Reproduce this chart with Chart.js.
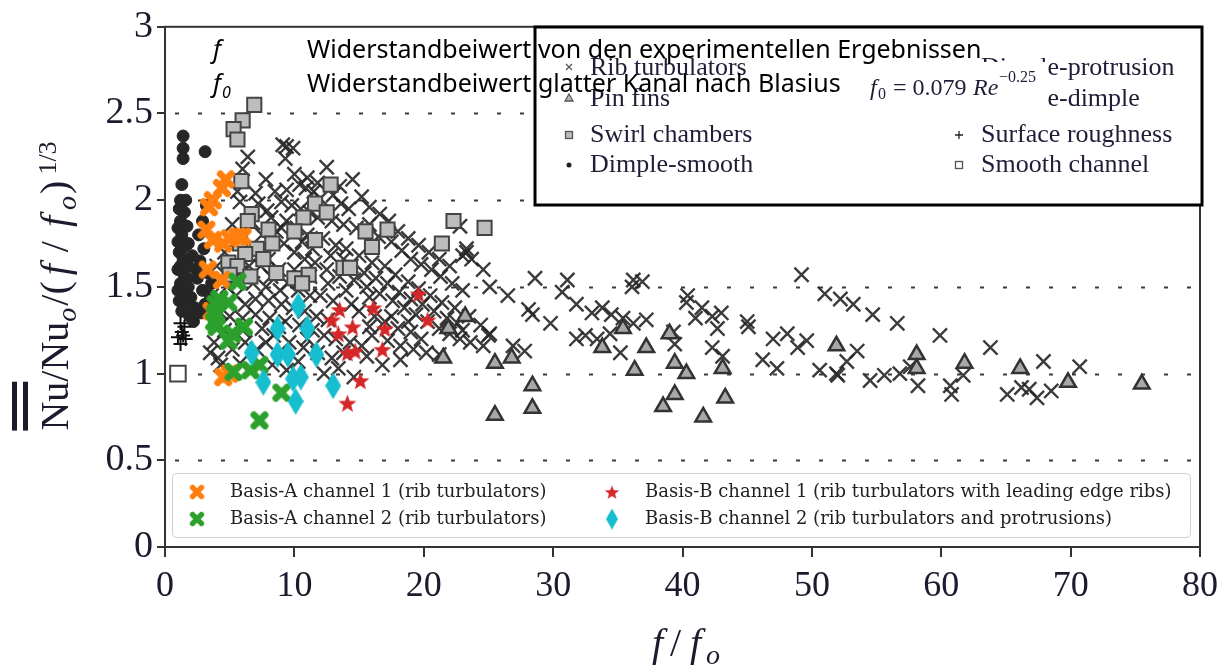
<!DOCTYPE html>
<html>
<head>
<meta charset="utf-8">
<script src="https://cdn.jsdelivr.net/npm/chart.js@4/dist/chart.umd.min.js"></script>
<style>
body { margin: 0; background: #fff; }
#wrap { width: 1228px; height: 671px; }
</style>
</head>
<body>
<div id="wrap"><canvas id="thermChart"></canvas></div>
<script>
// tick labels
const xTickLabels = ['0','10','20','30','40','50','60','70','80'];
const yTickLabels = ['0','0.5','1','1.5','2','2.5','3'];

// Basis-A / Basis-B measurements [f/f0, Nu/Nu0/(f/f0)^1/3]
const basisA1 = [[4.7,2.12],[4.4,2.07],[3.7,2.0],[3.4,1.96],[3.2,1.83],[3.7,1.77],[4.5,1.75],[5.0,1.78],[5.6,1.79],[6.0,1.79],[3.3,1.60],[4.4,1.54],[3.6,1.36],[4.5,0.98],[5.0,1.0]];
const basisA2 = [[5.6,1.53],[4.2,1.43],[3.9,1.40],[4.9,1.41],[3.8,1.30],[4.0,1.27],[5.2,1.23],[6.1,1.27],[4.9,1.19],[5.3,1.01],[6.6,1.02],[7.3,1.05],[9.0,0.89],[7.3,0.73],[3.9,1.35]];
const basisB1 = [[13.5,1.37],[12.9,1.31],[13.4,1.23],[14.5,1.27],[16.1,1.38],[17.0,1.26],[16.8,1.14],[14.1,1.12],[14.7,1.13],[15.1,0.96],[14.1,0.83],[19.6,1.46],[20.3,1.31]];
const basisB2 = [[6.7,1.12],[7.6,0.95],[8.7,1.26],[8.7,1.11],[9.5,1.11],[10.3,1.39],[11.0,1.26],[11.7,1.11],[9.9,0.97],[10.5,0.98],[10.1,0.84],[13.0,0.93]];

// literature data
const ribTurb = [[9.4,2.31],[9.9,2.30],[9.3,2.24],[9.1,2.32],[6.4,2.25],[12.5,2.19],[14.5,2.12],[7.0,2.04],[5.6,2.05],[5.8,1.99],[9.4,2.06],[10.4,2.09],[10.9,2.07],[11.5,2.05],[12.0,2.01],[13.0,2.03],[13.6,1.98],[14.2,1.95],[9.0,1.99],[9.8,1.97],[10.5,1.95],[11.2,1.93],[11.8,1.90],[12.9,1.88],[13.8,1.86],[14.8,1.84],[15.8,1.86],[16.5,1.79],[17.5,1.76],[18.3,1.71],[19.0,1.66],[19.8,1.63],[20.6,1.60],[21.3,1.56],[22.2,1.52],[23.0,1.48],[9.4,1.88],[10.2,1.84],[11.0,1.80],[12.2,1.78],[13.2,1.74],[14.0,1.72],[15.0,1.68],[16.0,1.64],[17.0,1.62],[17.8,1.57],[18.8,1.53],[19.6,1.49],[20.5,1.45],[21.4,1.41],[22.4,1.38],[23.5,1.33],[24.4,1.28],[25.0,1.22],[9.2,1.75],[10.0,1.70],[10.8,1.66],[11.6,1.64],[12.5,1.60],[13.5,1.56],[14.6,1.54],[15.6,1.50],[16.6,1.46],[17.6,1.42],[18.5,1.38],[19.4,1.34],[20.3,1.30],[21.2,1.26],[22.0,1.23],[22.8,1.20],[23.6,1.18],[24.6,1.16],[7.2,1.98],[7.9,1.94],[6.8,1.87],[7.5,1.80],[8.6,1.82],[5.2,1.86],[4.6,1.70],[6.7,1.70],[8.0,1.66],[8.8,1.60],[5.8,1.58],[6.8,1.52],[7.8,1.50],[8.9,1.48],[4.8,1.50],[5.5,1.45],[6.2,1.40],[7.0,1.43],[8.0,1.42],[9.0,1.40],[9.9,1.38],[10.8,1.36],[11.7,1.33],[12.6,1.31],[4.3,1.35],[5.0,1.33],[6.0,1.32],[7.0,1.34],[8.1,1.32],[9.3,1.30],[10.4,1.28],[11.4,1.25],[12.3,1.22],[13.2,1.20],[14.3,1.18],[15.2,1.16],[16.0,1.22],[17.2,1.19],[18.2,1.16],[19.2,1.14],[20.2,1.12],[21.2,1.11],[8.4,1.22],[9.6,1.18],[10.7,1.15],[11.8,1.12],[12.9,1.09],[6.2,1.18],[7.1,1.14],[3.5,1.12],[4.1,1.09],[4.3,1.05],[8.3,1.05],[9.4,1.02],[10.3,1.07],[12.3,1.0],[13.4,1.03],[14.6,0.98],[5.8,1.06],[15.8,1.27],[17.5,1.33],[18.8,1.30],[14.4,1.40],[15.8,1.44],[11.2,1.45],[6.0,2.18],[7.8,2.12],[8.5,2.05],[10.0,2.15],[11.0,2.13],[11.8,2.10],[13.5,2.08],[15.2,2.02],[15.8,1.96],[16.6,1.92],[17.3,1.88],[18.0,1.82],[18.8,1.78],[19.6,1.74],[20.4,1.70],[21.2,1.66],[22.0,1.62],[23.3,1.70],[23.0,1.68],[8.2,1.90],[9.0,1.84],[10.6,1.76],[11.4,1.72],[12.8,1.68],[13.8,1.66],[14.4,1.62],[15.4,1.58],[16.3,1.55],[17.2,1.52],[18.1,1.47],[19.0,1.43],[19.9,1.40],[20.8,1.36],[21.8,1.32],[22.6,1.29],[23.0,1.25],[7.4,1.62],[8.2,1.56],[9.5,1.52],[10.3,1.48],[12.0,1.45],[13.0,1.42],[14.0,1.48],[15.0,1.36],[16.2,1.33],[17.0,1.30],[18.0,1.26],[19.0,1.24],[19.8,1.20],[10.0,1.60],[11.2,1.56],[12.6,1.52],[6.0,1.25],[7.5,1.26],[8.8,1.27],[5.2,1.14],[7.8,1.18],[11.0,1.20],[13.8,1.12],[15.6,1.10],[16.8,1.05],[18.2,1.08],[3.8,1.18],[4.6,1.25],[5.5,1.52],[6.5,1.62],[4.0,1.62],[3.6,1.45],[22.8,1.85],[23.3,1.72],[23.7,1.66],[24.6,1.60],[25.1,1.50],[26.5,1.45],[28.1,1.37],[28.4,1.34],[29.8,1.29],[25.1,1.23],[26.9,1.16],[27.8,1.13],[28.6,1.55],[31.1,1.54],[30.7,1.47],[31.8,1.40],[33.0,1.35],[33.8,1.38],[34.5,1.34],[35.4,1.32],[36.2,1.29],[37.2,1.31],[31.8,1.20],[32.5,1.22],[33.4,1.20],[34.4,1.23],[35.2,1.12],[36.2,1.54],[36.9,1.53],[36.1,1.50],[40.4,1.45],[40.3,1.41],[41.5,1.38],[41.0,1.32],[42.3,1.33],[43.0,1.35],[42.7,1.26],[39.3,1.24],[39.4,1.17],[42.3,1.15],[43.1,1.10],[45.0,1.30],[45.1,1.27],[47.0,1.20],[48.1,1.23],[48.9,1.15],[49.6,1.19],[49.2,1.57],[51.0,1.46],[46.2,1.08],[47.3,1.03],[50.6,1.02],[51.9,1.0],[52.2,1.43],[53.2,1.40],[54.7,1.34],[56.6,1.29],[59.9,1.22],[63.8,1.15],[67.9,1.07],[70.7,1.04],[52.7,1.07],[53.5,1.13],[52.0,0.99],[54.5,0.96],[55.6,0.99],[56.8,1.0],[57.6,1.04],[58.2,0.93],[60.7,0.93],[60.8,0.88],[61.7,0.99],[65.1,0.88],[66.2,0.92],[66.8,0.91],[67.4,0.86],[68.5,0.90]];
const pinFins = [[23.2,1.33],[21.9,1.26],[21.5,1.09],[25.5,1.06],[26.8,1.09],[28.4,0.93],[28.4,0.80],[25.5,0.76],[35.4,1.26],[33.8,1.15],[37.2,1.15],[36.3,1.02],[39.0,1.23],[39.4,1.06],[40.3,1.0],[39.4,0.88],[38.5,0.81],[41.6,0.75],[43.1,1.03],[43.3,0.86],[51.9,1.16],[58.1,1.11],[58.1,1.03],[61.8,1.06],[66.1,1.03],[69.8,0.95],[75.5,0.94]];
const swirlChambers = [[6.9,2.55],[6.0,2.46],[5.3,2.41],[5.6,2.35],[5.9,2.11],[6.7,1.92],[6.4,1.88],[8.0,1.83],[5.8,1.75],[7.1,1.72],[8.3,1.75],[6.2,1.69],[4.9,1.64],[5.6,1.62],[5.0,1.57],[12.8,2.09],[11.6,1.98],[10.7,1.90],[12.5,1.93],[10.0,1.82],[11.6,1.77],[15.5,1.82],[17.2,1.83],[16.0,1.73],[21.4,1.75],[22.3,1.88],[24.7,1.84],[11.1,1.57],[10.0,1.55],[10.6,1.52],[13.8,1.61],[14.3,1.61],[7.6,1.66],[8.6,1.58],[6.6,1.56]];
const dimpleSmooth = [[1.4,2.37],[1.4,2.30],[1.4,2.24],[3.1,2.28],[1.3,2.09],[1.2,2.0],[1.6,2.0],[1.5,1.93],[1.2,1.88],[1.7,1.85],[1.3,1.80],[1.0,1.76],[1.6,1.74],[1.1,1.70],[1.4,1.66],[1.8,1.62],[1.0,1.60],[1.5,1.56],[1.2,1.52],[1.8,1.50],[1.4,1.46],[2.0,1.44],[1.1,1.42],[1.6,1.40],[1.3,1.36],[2.3,1.38],[1.9,1.33],[2.8,1.35],[3.2,1.97],[2.9,1.88],[2.6,1.80],[3.0,1.72],[2.7,1.65],[3.3,1.58],[2.5,1.55],[2.9,1.48],[3.5,1.45],[2.2,1.30],[3.1,1.40],[2.4,1.60],[3.6,1.52],[1.8,1.75],[2.1,1.68],[1.1,1.95],[1.0,1.84],[1.3,1.72],[1.0,1.48],[1.2,1.62],[1.7,1.55]];
const surfaceRough = [[1.2,1.29],[1.5,1.27],[1.3,1.24],[1.0,1.21],[1.6,1.20],[1.2,1.17],[1.4,1.22]];
const smoothChannel = [[1.0,1.0]];

const gridLevels = [0.5, 1, 1.5, 2, 2.5];

function pts(arr) { return arr.map(p => ({x: p[0], y: p[1]})); }

// filled marker images
function markX(color, s) {
  const c = document.createElement('canvas');
  c.width = s; c.height = s;
  const g = c.getContext('2d');
  g.strokeStyle = color; g.lineWidth = s * 0.34; g.lineCap = 'round';
  const m = s * 0.22;
  g.beginPath();
  g.moveTo(m, m); g.lineTo(s - m, s - m);
  g.moveTo(s - m, m); g.lineTo(m, s - m);
  g.stroke();
  return c;
}
function markStar(color, s) {
  const c = document.createElement('canvas');
  c.width = s; c.height = s;
  const g = c.getContext('2d');
  g.fillStyle = color;
  const R = s / 2, r = R * 0.42;
  g.beginPath();
  for (let i = 0; i < 10; i++) {
    const a = -Math.PI / 2 + i * Math.PI / 5;
    const rr = i % 2 ? r : R;
    g.lineTo(R + rr * Math.cos(a), R + 1 + rr * Math.sin(a));
  }
  g.closePath(); g.fill();
  return c;
}
function markDiamond(color, w, h) {
  const c = document.createElement('canvas');
  c.width = w; c.height = h;
  const g = c.getContext('2d');
  g.fillStyle = color;
  g.beginPath();
  g.moveTo(w / 2, 0); g.lineTo(w, h / 2); g.lineTo(w / 2, h); g.lineTo(0, h / 2);
  g.closePath(); g.fill();
  return c;
}

const orangeX = markX('#ff7f0e', 20);
const greenX = markX('#2ca02c', 20);
const redStar = markStar('#d62728', 19);
const cyanDia = markDiamond('#17becf', 16, 27);

const decor = {
  id: 'decor',
  beforeDatasetsDraw(chart) {
    const {ctx, chartArea: a, scales: {y}} = chart;
    ctx.save();
    ctx.strokeStyle = '#3a3a3a';
    ctx.lineWidth = 2;
    ctx.setLineDash([4, 19]);
    gridLevels.forEach(v => {
      const py = Math.round(y.getPixelForValue(v)) + 0.5;
      ctx.beginPath(); ctx.moveTo(a.left + 10, py); ctx.lineTo(a.right - 4, py); ctx.stroke();
    });
    ctx.restore();
  },
  afterDatasetsDraw(chart) {
    const {ctx, chartArea: a} = chart;
    ctx.save();
    // frame
    ctx.strokeStyle = '#333';
    ctx.lineWidth = 2;
    ctx.strokeRect(a.left, a.top, a.right - a.left, a.bottom - a.top);

    // lower legend
    ctx.fillStyle = 'rgba(255,255,255,0.85)';
    ctx.strokeStyle = '#d0d0d0';
    ctx.lineWidth = 1;
    ctx.beginPath();
    ctx.roundRect(172.5, 473.5, 1018, 64, 4);
    ctx.fill(); ctx.stroke();
    ctx.font = '18px "DejaVu Serif"';
    ctx.fillStyle = '#222';
    ctx.textBaseline = 'middle';
    const legItems = [
      [orangeX, 197, 492, 'Basis-A channel 1 (rib turbulators)', 16, 16],
      [greenX, 197, 519, 'Basis-A channel 2 (rib turbulators)', 16, 16],
      [redStar, 612, 492, 'Basis-B channel 1 (rib turbulators with leading edge ribs)', 15, 15],
      [cyanDia, 612, 519, 'Basis-B channel 2 (rib turbulators and protrusions)', 12, 21]
    ];
    legItems.forEach(([img, mx, my, txt, w, h]) => {
      ctx.drawImage(img, mx - w / 2, my - h / 2, w, h);
      ctx.fillText(txt, mx + 33, my);
    });

    // upper legend box
    ctx.fillStyle = '#fff';
    ctx.fillRect(535, 27, 667, 178);
    ctx.strokeStyle = '#000';
    ctx.lineWidth = 3;
    ctx.strokeRect(535, 27, 667, 178);
    ctx.font = '26px "Liberation Serif"';
    ctx.fillStyle = '#1e1e38';
    ctx.fillText('Rib turbulators', 590, 68);
    ctx.fillText('Pin fins', 590, 99);
    ctx.fillText('Swirl chambers', 590, 135);
    ctx.fillText('Dimple-smooth', 590, 165);
    ctx.fillText('Dimple-protrusion', 981, 68);
    ctx.fillText('Dimple-dimple', 981, 99);
    ctx.fillText('Surface roughness', 981, 135);
    ctx.fillText('Smooth channel', 981, 165);
    // small symbols
    ctx.strokeStyle = '#555'; ctx.lineWidth = 1.3;
    ctx.beginPath(); ctx.moveTo(566, 64); ctx.lineTo(572, 70); ctx.moveTo(572, 64); ctx.lineTo(566, 70); ctx.stroke();
    ctx.fillStyle = '#bbb'; ctx.strokeStyle = '#555';
    ctx.beginPath(); ctx.moveTo(569, 94); ctx.lineTo(573, 101); ctx.lineTo(565, 101); ctx.closePath(); ctx.fill(); ctx.stroke();
    ctx.fillRect(565.5, 131.5, 7, 7); ctx.strokeRect(565.5, 131.5, 7, 7);
    ctx.fillStyle = '#222';
    ctx.beginPath(); ctx.arc(569, 165, 2.5, 0, Math.PI * 2); ctx.fill();
    ctx.strokeStyle = '#222';
    ctx.beginPath(); ctx.moveTo(959, 131); ctx.lineTo(959, 139); ctx.moveTo(955, 135); ctx.lineTo(963, 135); ctx.stroke();
    ctx.strokeStyle = '#555';
    ctx.strokeRect(955.5, 161.5, 7, 7);

    // formula with its own white patch
    ctx.fillStyle = '#fff';
    ctx.fillRect(866, 62, 181, 52);
    ctx.fillStyle = '#1e1e38';
    ctx.textBaseline = 'alphabetic';
    ctx.font = 'italic 24px "Liberation Serif"';
    ctx.fillText('f', 870, 95);
    ctx.font = '16px "Liberation Serif"';
    ctx.fillText('0', 878, 99);
    ctx.font = '24px "Liberation Serif"';
    ctx.fillText('= 0.079', 893, 95);
    ctx.font = 'italic 24px "Liberation Serif"';
    ctx.fillText('Re', 973, 95);
    ctx.font = '16px "Liberation Serif"';
    ctx.fillText('\u22120.25', 999, 82);

    // german explanation
    ctx.fillStyle = '#000';
    ctx.font = 'italic 25px "Noto Sans"';
    ctx.fillText('f', 213, 58);
    ctx.fillText('f', 213, 92);
    ctx.font = 'italic 16px "Noto Sans"';
    ctx.fillText('0', 222, 98);
    ctx.font = '25px "Noto Sans"';
    ctx.fillText('Widerstandbeiwert von den experimentellen Ergebnissen', 307, 58);
    ctx.fillText('Widerstandbeiwert glatter Kanal nach Blasius', 307, 92);

    // y axis title
    ctx.save();
    ctx.translate(68, 286);
    ctx.rotate(-Math.PI / 2);
    const parts = [
      ['Nu/Nu', '40px "Liberation Serif"', 0, 0],
      ['o', 'italic 28px "Liberation Serif"', 8, 2],
      ['/(', '40px "Liberation Serif"', 0, 6],
      ['f', 'italic 40px "Liberation Serif"', 0, 12],
      ['/', '40px "Liberation Serif"', 0, 14],
      ['f', 'italic 40px "Liberation Serif"', 0, 6],
      ['o', 'italic 28px "Liberation Serif"', 8, 2],
      [')', '40px "Liberation Serif"', 0, 6],
      ['1/3', '26px "Liberation Serif"', -12, 0]
    ];
    let total = 0;
    parts.forEach(p => { ctx.font = p[1]; total += ctx.measureText(p[0]).width + p[3]; });
    let px = -total / 2;
    const nuStart = px;
    ctx.font = parts[0][1];
    const nuW = ctx.measureText('Nu').width;
    ctx.fillStyle = '#1b1b2e';
    parts.forEach(p => {
      ctx.font = p[1];
      ctx.fillText(p[0], px, p[2]);
      px += ctx.measureText(p[0]).width + p[3];
    });
    ctx.fillRect(nuStart, -45, nuW, 5);
    ctx.fillRect(nuStart, -56, nuW, 5);
    ctx.restore();

    // x axis title
    ctx.font = 'italic 40px "Liberation Serif"';
    ctx.fillStyle = '#1b1b2e';
    ctx.fillText('f', 652, 656);
    ctx.font = '40px "Liberation Serif"';
    ctx.fillText('/', 670, 656);
    ctx.font = 'italic 40px "Liberation Serif"';
    ctx.fillText('f', 690, 656);
    ctx.font = 'italic 28px "Liberation Serif"';
    ctx.fillText('o', 706, 664);
    ctx.restore();
  }
};

new Chart('thermChart', {
  type: 'scatter',
  data: {
    datasets: [
      {label: 'Basis-B channel 2', data: pts(basisB2), pointStyle: cyanDia, order: 1},
      {label: 'Basis-B channel 1', data: pts(basisB1), pointStyle: redStar, order: 2},
      {label: 'Basis-A channel 2', data: pts(basisA2), pointStyle: greenX, order: 3},
      {label: 'Basis-A channel 1', data: pts(basisA1), pointStyle: orangeX, order: 4},
      {label: 'Smooth channel', data: pts(smoothChannel), pointStyle: 'rect', pointRadius: 11, backgroundColor: '#fff', borderColor: '#444', borderWidth: 2, order: 5},
      {label: 'Surface roughness', data: pts(surfaceRough), pointStyle: 'cross', pointRadius: 7, borderColor: '#111', borderWidth: 2, order: 6},
      {label: 'Swirl chambers', data: pts(swirlChambers), pointStyle: 'rect', pointRadius: 10, backgroundColor: '#bdbdbd', borderColor: '#444', borderWidth: 2, order: 7},
      {label: 'Pin fins', data: pts(pinFins), pointStyle: 'triangle', pointRadius: 9, backgroundColor: '#a8a8a8', borderColor: '#333', borderWidth: 2.5, order: 8},
      {label: 'Rib turbulators', data: pts(ribTurb), pointStyle: 'crossRot', pointRadius: 10, borderColor: 'rgba(38,38,38,0.9)', borderWidth: 2.4, order: 9},
      {label: 'Dimple-smooth', data: pts(dimpleSmooth), pointStyle: 'circle', pointRadius: 6, backgroundColor: '#262626', borderColor: '#262626', borderWidth: 1, order: 10}
    ]
  },
  options: {
    responsive: true,
    maintainAspectRatio: false,
    animation: false,
    events: [],
    layout: {padding: {top: 24, right: 28, left: 0, bottom: 0}},
    plugins: {legend: {display: false}, tooltip: {enabled: false}},
    scales: {
      x: {
        type: 'linear', min: 0, max: 80,
        afterFit: s => { s.height = 124; },
        ticks: {stepSize: 10, color: '#1b1b2e', padding: 8, font: {family: 'Liberation Serif', size: 36},
          callback: v => xTickLabels[v / 10] ?? ''},
        grid: {drawOnChartArea: false, tickLength: 10, color: '#333', lineWidth: 2},
        border: {color: '#333', width: 2}
      },
      y: {
        type: 'linear', min: 0, max: 3,
        afterFit: s => { s.width = 165; },
        ticks: {stepSize: 0.5, color: '#1b1b2e', padding: 4, font: {family: 'Liberation Serif', size: 38},
          callback: v => yTickLabels[Math.round(v * 2)] ?? ''},
        grid: {drawOnChartArea: false, tickLength: 8, color: '#333', lineWidth: 2},
        border: {color: '#333', width: 2}
      }
    }
  },
  plugins: [decor]
});
</script>
</body>
</html>
